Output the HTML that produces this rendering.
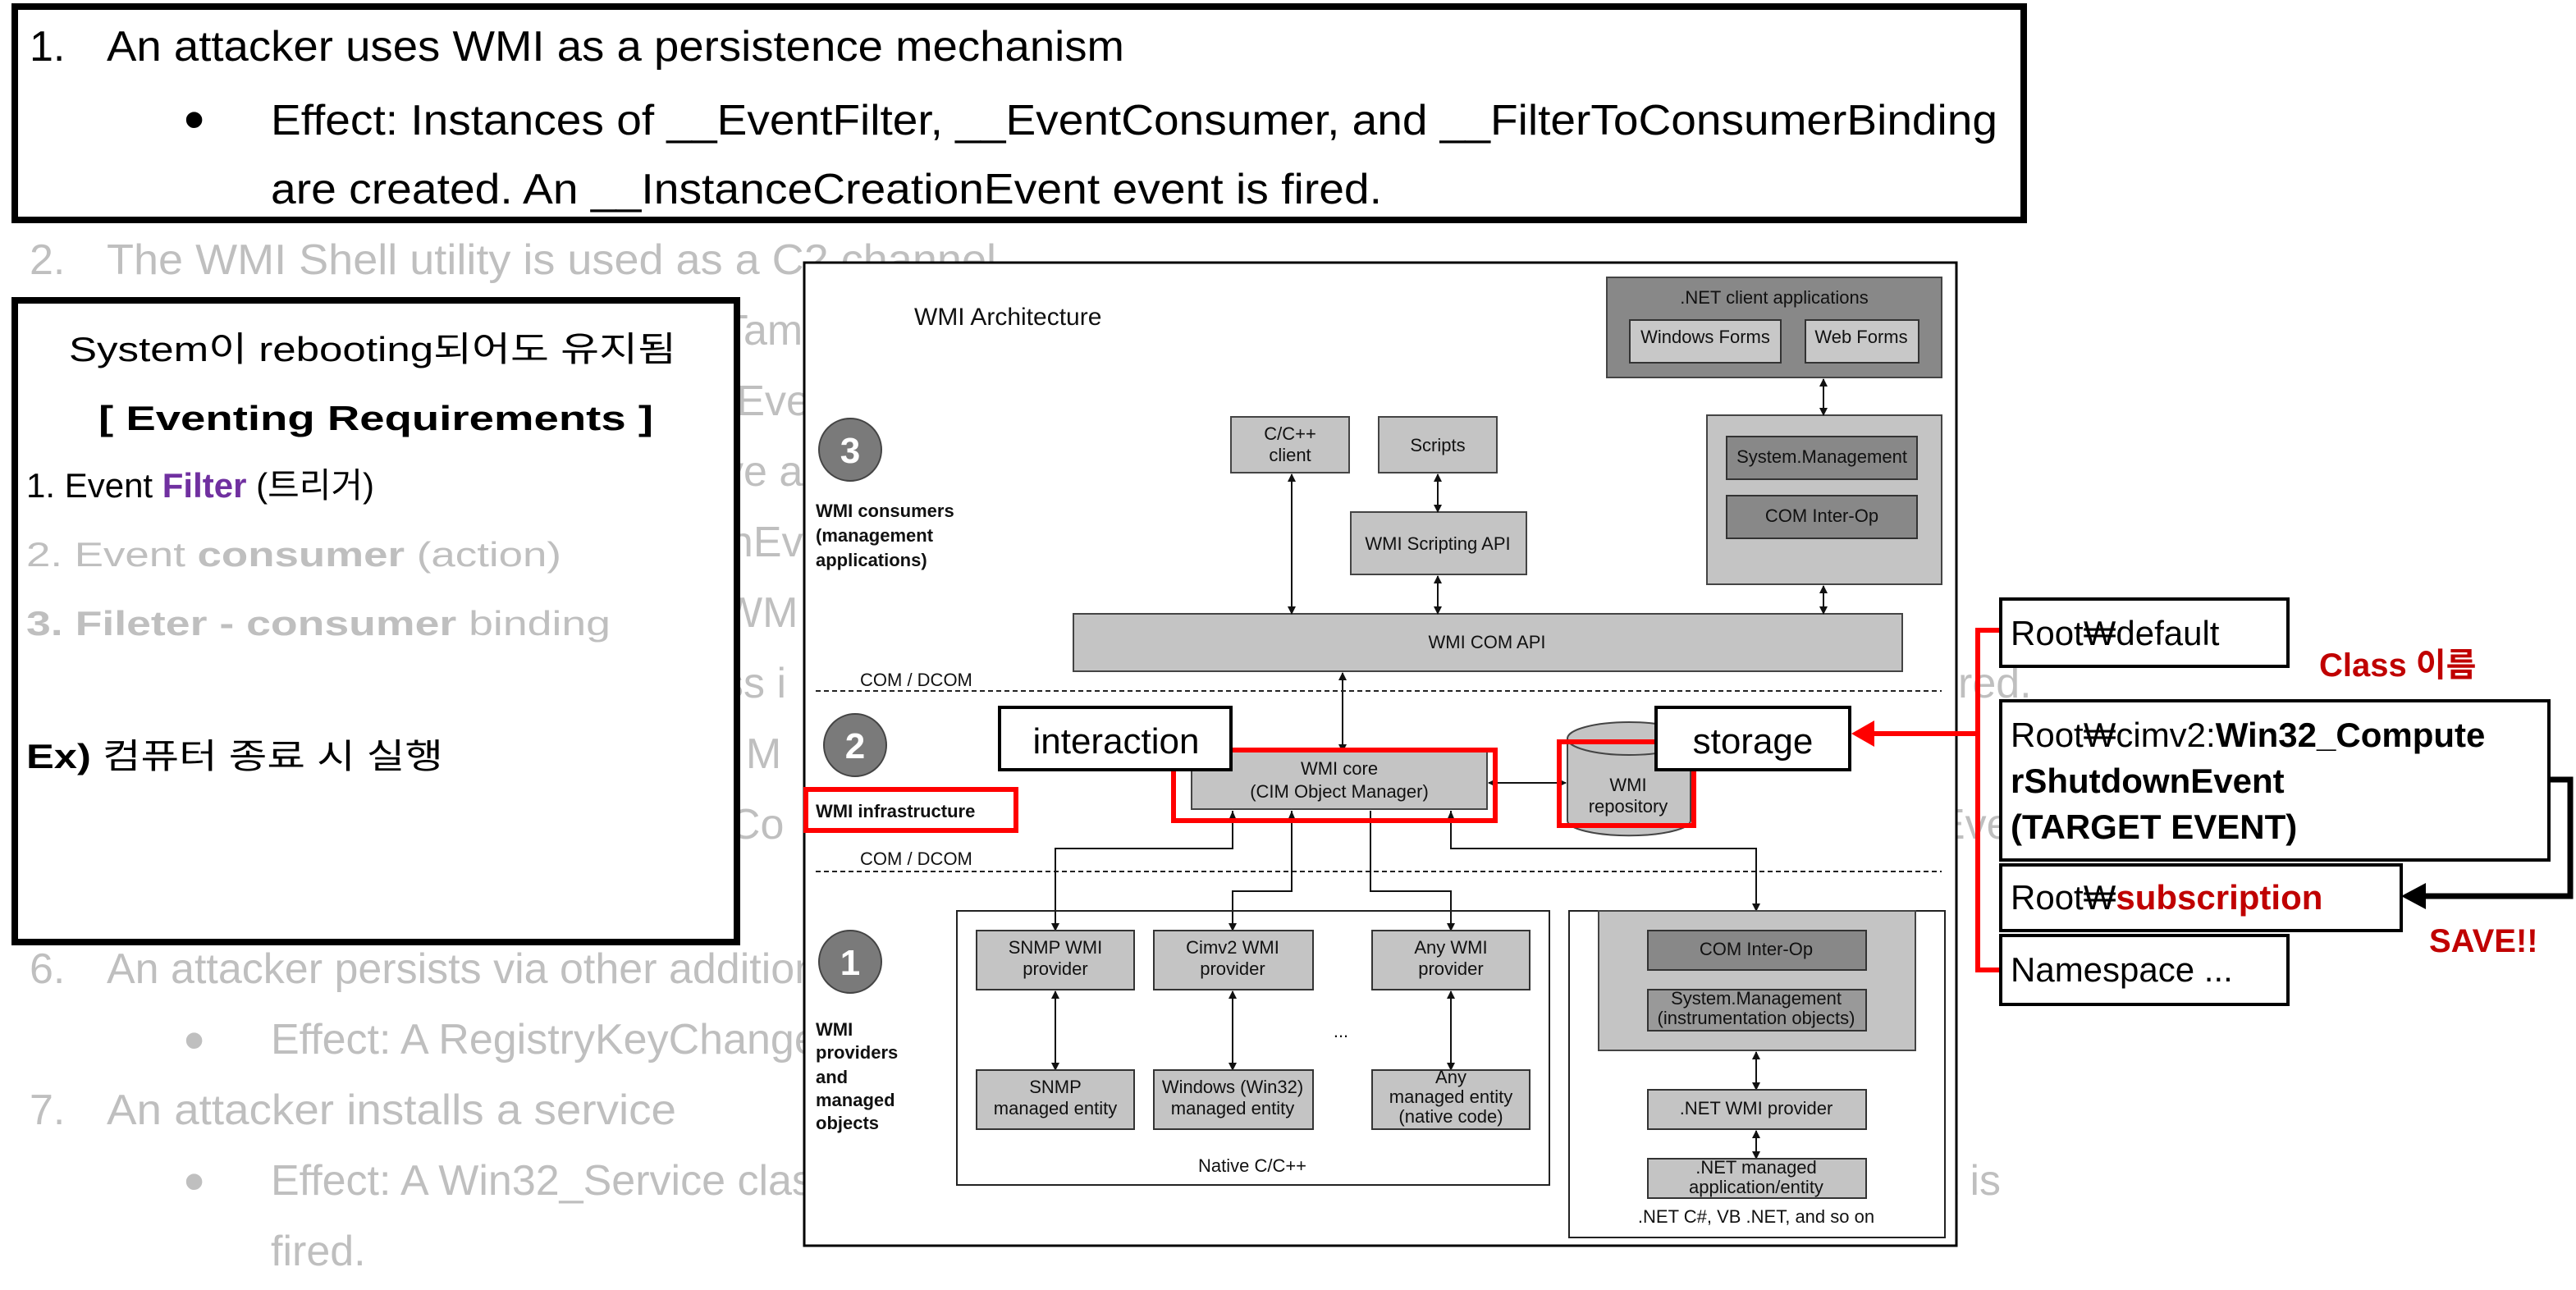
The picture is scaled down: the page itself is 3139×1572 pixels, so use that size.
<!DOCTYPE html>
<html><head><meta charset="utf-8"><style>
html,body{margin:0;padding:0;background:#fff;}
svg{display:block;}
.c{font-family:"Liberation Sans Narrow","Liberation Sans","Noto Sans CJK KR",sans-serif;}
.k{font-family:"Liberation Sans","Noto Sans CJK KR",sans-serif;}
.d{font-family:"Liberation Sans Narrow","Liberation Sans",sans-serif;font-size:11px;fill:#111;}
.g{fill:#bfbfbf;}
</style></head><body>
<svg width="3139" height="1572" viewBox="0 0 1569.5 786" xmlns="http://www.w3.org/2000/svg">
<defs>
<marker id="a" viewBox="0 0 10 10" refX="9" refY="5" markerWidth="5" markerHeight="7" orient="auto-start-reverse" markerUnits="userSpaceOnUse"><path d="M0,0 L10,5 L0,10 z" fill="#111"/></marker>
</defs>
<!-- gray background text -->
<g class="c g" font-size="26">
<text x="18" y="167">2.</text><text x="65" y="167" textLength="542" lengthAdjust="spacingAndGlyphs">The WMI Shell utility is used as a C2 channel</text>
<text x="440" y="210">Tam</text>
<text x="440" y="253">rEve</text>
<text x="440" y="296">ve a</text>
<text x="430" y="339">onEv</text>
<text x="440" y="382">WM</text>
<text x="440" y="425">ss i</text><text x="1180" y="425">fired.</text>
<text x="440" y="468">t M</text>
<text x="430" y="511">oCo</text><text x="1180" y="511">Eve</text>
<text x="18" y="599">6.</text><text x="65" y="599">An attacker persists via other additional</text>
<text x="112" y="646" font-size="36">•</text><text x="165" y="642">Effect: A RegistryKeyChangeEvent</text>
<text x="18" y="685">7.</text><text x="65" y="685" textLength="347" lengthAdjust="spacingAndGlyphs">An attacker installs a service</text>
<text x="112" y="732" font-size="36">•</text><text x="165" y="728">Effect: A Win32_Service class instance</text><text x="1180" y="728">it is</text>
<text x="165" y="771">fired.</text>
</g>
<!-- top box -->
<rect x="9" y="4" width="1224" height="130" fill="#fff" stroke="#000" stroke-width="4"/>
<g class="c" font-size="26" fill="#000">
<text x="18" y="37">1.</text><text x="65" y="37" textLength="620" lengthAdjust="spacingAndGlyphs">An attacker uses WMI as a persistence mechanism</text>
<text x="112" y="85" font-size="36">•</text>
<text x="165" y="82" textLength="1052" lengthAdjust="spacingAndGlyphs">Effect: Instances of __EventFilter, __EventConsumer, and __FilterToConsumerBinding</text>
<text x="165" y="124" textLength="677" lengthAdjust="spacingAndGlyphs">are created. An __InstanceCreationEvent event is fired.</text>
</g>
<!-- left box -->
<rect x="9" y="183" width="440" height="391" fill="#fff" stroke="#000" stroke-width="4"/>
<g class="k" font-size="21">
<text x="42" y="220" textLength="370" lengthAdjust="spacingAndGlyphs">System이 rebooting되어도 유지됨</text>
<text x="60" y="262" font-weight="bold" textLength="338" lengthAdjust="spacingAndGlyphs">[ Eventing Requirements ]</text>
<text x="16" y="303">1. Event <tspan fill="#7030a0" font-weight="bold">Filter</tspan> (트리거)</text>
<text x="16" y="345" class="g" textLength="326" lengthAdjust="spacingAndGlyphs">2. Event <tspan font-weight="bold">consumer</tspan> (action)</text>
<text x="16" y="387" class="g" textLength="356" lengthAdjust="spacingAndGlyphs"><tspan font-weight="bold">3. Fileter - consumer</tspan> binding</text>
<text x="16" y="468" textLength="254" lengthAdjust="spacingAndGlyphs"><tspan font-weight="bold">Ex)</tspan> 컴퓨터 종료 시 실행</text>
</g>
<!-- diagram frame -->
<rect x="490" y="160" width="702" height="599" fill="#fff" stroke="#000" stroke-width="1.5"/>
<text x="557" y="198" class="d" style="font-size:15px">WMI Architecture</text>
<!-- circles -->
<g stroke="#444" stroke-width="1">
<circle cx="518" cy="274" r="19" fill="#7a7a7a"/>
<circle cx="521" cy="454" r="19" fill="#7a7a7a"/>
<circle cx="518" cy="586" r="19" fill="#7a7a7a"/>
</g>
<g font-family="Liberation Sans,sans-serif" font-weight="bold" font-size="22" fill="#fff" text-anchor="middle">
<text x="518" y="282">3</text><text x="521" y="462">2</text><text x="518" y="594">1</text>
</g>
<g class="d" font-weight="bold">
<text x="497" y="315">WMI consumers</text><text x="497" y="330">(management</text><text x="497" y="345">applications)</text>
<text x="497" y="631">WMI</text><text x="497" y="645">providers</text><text x="497" y="660">and</text><text x="497" y="674">managed</text><text x="497" y="688">objects</text>
</g>
<!-- top right .NET -->
<rect x="979" y="169" width="204" height="61" fill="#888" stroke="#444"/>
<text x="1081" y="185" class="d" text-anchor="middle">.NET client applications</text>
<rect x="993" y="195" width="92" height="26" fill="#c8c8c8" stroke="#333"/>
<text x="1039" y="209" class="d" text-anchor="middle">Windows Forms</text>
<rect x="1100" y="195" width="69" height="26" fill="#c8c8c8" stroke="#333"/>
<text x="1134" y="209" class="d" text-anchor="middle">Web Forms</text>
<rect x="1040" y="253" width="143" height="103" fill="#c4c4c4" stroke="#444"/>
<rect x="1052" y="266" width="116" height="26" fill="#888" stroke="#333"/>
<text x="1110" y="282" class="d" text-anchor="middle">System.Management</text>
<rect x="1052" y="302" width="116" height="26" fill="#888" stroke="#333"/>
<text x="1110" y="318" class="d" text-anchor="middle">COM Inter-Op</text>
<!-- consumers -->
<rect x="750" y="254" width="72" height="34" fill="#c4c4c4" stroke="#444"/>
<text x="786" y="268" class="d" text-anchor="middle">C/C++</text><text x="786" y="281" class="d" text-anchor="middle">client</text>
<rect x="840" y="254" width="72" height="34" fill="#c4c4c4" stroke="#444"/>
<text x="876" y="275" class="d" text-anchor="middle">Scripts</text>
<rect x="823" y="312" width="107" height="38" fill="#c4c4c4" stroke="#444"/>
<text x="876" y="335" class="d" text-anchor="middle">WMI Scripting API</text>
<rect x="654" y="374" width="505" height="35" fill="#c4c4c4" stroke="#444"/>
<text x="906" y="395" class="d" text-anchor="middle">WMI COM API</text>
<g stroke="#111" stroke-width="1" fill="none" marker-start="url(#a)" marker-end="url(#a)">
<line x1="1111" y1="231" x2="1111" y2="253"/>
<line x1="1111" y1="357" x2="1111" y2="374"/>
<line x1="787" y1="289" x2="787" y2="374"/>
<line x1="876" y1="289" x2="876" y2="312"/>
<line x1="876" y1="351" x2="876" y2="374"/>
<line x1="818" y1="410" x2="818" y2="458"/>
<line x1="907" y1="477" x2="954" y2="477"/>
<line x1="643" y1="604" x2="643" y2="652"/>
<line x1="751" y1="604" x2="751" y2="652"/>
<line x1="884" y1="604" x2="884" y2="652"/>
<line x1="1070" y1="641" x2="1070" y2="664"/>
<line x1="1070" y1="689" x2="1070" y2="706"/>
</g>
<!-- dashed -->
<text x="524" y="418" class="d">COM / DCOM</text>
<line x1="497" y1="421" x2="1183" y2="421" stroke="#222" stroke-dasharray="3,2"/>
<text x="524" y="527" class="d">COM / DCOM</text>
<line x1="497" y1="531" x2="1183" y2="531" stroke="#222" stroke-dasharray="3,2"/>
<!-- core -->
<rect x="726" y="458" width="180" height="35" fill="#c4c4c4" stroke="#444"/>
<text x="816" y="472" class="d" text-anchor="middle">WMI core</text><text x="816" y="486" class="d" text-anchor="middle">(CIM Object Manager)</text>
<!-- repository cylinder -->
<path d="M955,450 L955,500 A37,9 0 0 0 1030,500 L1030,450" fill="#c4c4c4" stroke="#444"/>
<ellipse cx="992.5" cy="450" rx="37.5" ry="10" fill="#c4c4c4" stroke="#444"/>
<text x="992" y="482" class="d" text-anchor="middle">WMI</text><text x="992" y="495" class="d" text-anchor="middle">repository</text>
<!-- connectors down -->
<g stroke="#111" stroke-width="1" fill="none" marker-end="url(#a)">
<polyline points="751,494 751,517 643,517 643,567"/>
<polyline points="787,494 787,543 751,543 751,567"/>
<polyline points="835,494 835,543 884,543 884,567"/>
<polyline points="884,494 884,517 1070,517 1070,555"/>
</g>
<g fill="#111"><path d="M751,494 l-3,7 h6z"/><path d="M787,494 l-3,7 h6z"/><path d="M884,494 l-3,7 h6z"/></g>
<!-- native box -->
<rect x="583" y="555" width="361" height="167" fill="none" stroke="#222"/>
<g fill="#c4c4c4" stroke="#333">
<rect x="595" y="567" width="96" height="36"/><rect x="703" y="567" width="97" height="36"/><rect x="836" y="567" width="96" height="36"/>
<rect x="595" y="652" width="96" height="36"/><rect x="703" y="652" width="97" height="36"/><rect x="836" y="652" width="96" height="36"/>
</g>
<g class="d" text-anchor="middle">
<text x="643" y="581">SNMP WMI</text><text x="643" y="594">provider</text>
<text x="751" y="581">Cimv2 WMI</text><text x="751" y="594">provider</text>
<text x="884" y="581">Any WMI</text><text x="884" y="594">provider</text>
<text x="643" y="666">SNMP</text><text x="643" y="679">managed entity</text>
<text x="751" y="666">Windows (Win32)</text><text x="751" y="679">managed entity</text>
<text x="884" y="660">Any</text><text x="884" y="672">managed entity</text><text x="884" y="684">(native code)</text>
<text x="817" y="632">...</text>
<text x="763" y="714">Native C/C++</text>
</g>
<!-- .NET box -->
<rect x="956" y="555" width="229" height="199" fill="none" stroke="#222"/>
<rect x="974" y="555" width="193" height="85" fill="#c4c4c4" stroke="#444"/>
<rect x="1004" y="567" width="133" height="24" fill="#888" stroke="#333"/>
<text x="1070" y="582" class="d" text-anchor="middle">COM Inter-Op</text>
<rect x="1004" y="603" width="133" height="25" fill="#999" stroke="#333"/>
<text x="1070" y="612" class="d" text-anchor="middle">System.Management</text><text x="1070" y="624" class="d" text-anchor="middle">(instrumentation objects)</text>
<rect x="1004" y="664" width="133" height="24" fill="#c4c4c4" stroke="#333"/>
<text x="1070" y="679" class="d" text-anchor="middle">.NET WMI provider</text>
<rect x="1004" y="706" width="133" height="24" fill="#c4c4c4" stroke="#333"/>
<text x="1070" y="715" class="d" text-anchor="middle">.NET managed</text><text x="1070" y="727" class="d" text-anchor="middle">application/entity</text>
<text x="1070" y="745" class="d" text-anchor="middle">.NET C#, VB .NET, and so on</text>
<!-- red highlights -->
<g fill="none" stroke="#ff0000" stroke-width="3">
<rect x="491" y="481" width="128" height="25"/>
<rect x="715" y="457" width="196" height="43"/>
<rect x="950" y="452" width="82" height="51"/>
</g>
<text x="497" y="498" class="d" font-weight="bold">WMI infrastructure</text>
<rect x="609" y="431" width="141" height="38" fill="#fff" stroke="#000" stroke-width="2"/>
<text x="680" y="459" class="c" font-size="22" text-anchor="middle">interaction</text>
<rect x="1009" y="431" width="118" height="38" fill="#fff" stroke="#000" stroke-width="2"/>
<text x="1068" y="459" class="c" font-size="22" text-anchor="middle">storage</text>
<!-- right panel -->
<g fill="none" stroke="#ff0000" stroke-width="3">
<polyline points="1219,384 1205,384 1205,591 1219,591"/>
<line x1="1205" y1="447" x2="1140" y2="447"/>
</g>
<path d="M1128,447 L1142,439 L1142,455 z" fill="#ff0000"/>
<g fill="#fff" stroke="#000" stroke-width="2">
<rect x="1219" y="365" width="175" height="41"/>
<rect x="1219" y="427" width="334" height="97"/>
<rect x="1219" y="527" width="244" height="40"/>
<rect x="1219" y="570" width="175" height="42"/>
</g>
<g class="k" font-size="21" fill="#000">
<text x="1225" y="393">Root₩default</text>
<text x="1225" y="455">Root₩cimv2:<tspan font-weight="bold">Win32_Compute</tspan></text>
<text x="1225" y="483" font-weight="bold">rShutdownEvent</text>
<text x="1225" y="511" font-weight="bold">(TARGET EVENT)</text>
<text x="1225" y="554">Root₩<tspan fill="#c00000" font-weight="bold">subscription</tspan></text>
<text x="1225" y="598">Namespace ...</text>
</g>
<g class="k" font-size="20" font-weight="bold" fill="#c00000">
<text x="1413" y="412">Class 이름</text>
<text x="1480" y="580">SAVE!!</text>
</g>
<polyline points="1553,475 1566,475 1566,546 1476,546" fill="none" stroke="#000" stroke-width="3.5"/>
<path d="M1463,546 L1478,538 L1478,554 z" fill="#000"/>
</svg>
</body></html>
